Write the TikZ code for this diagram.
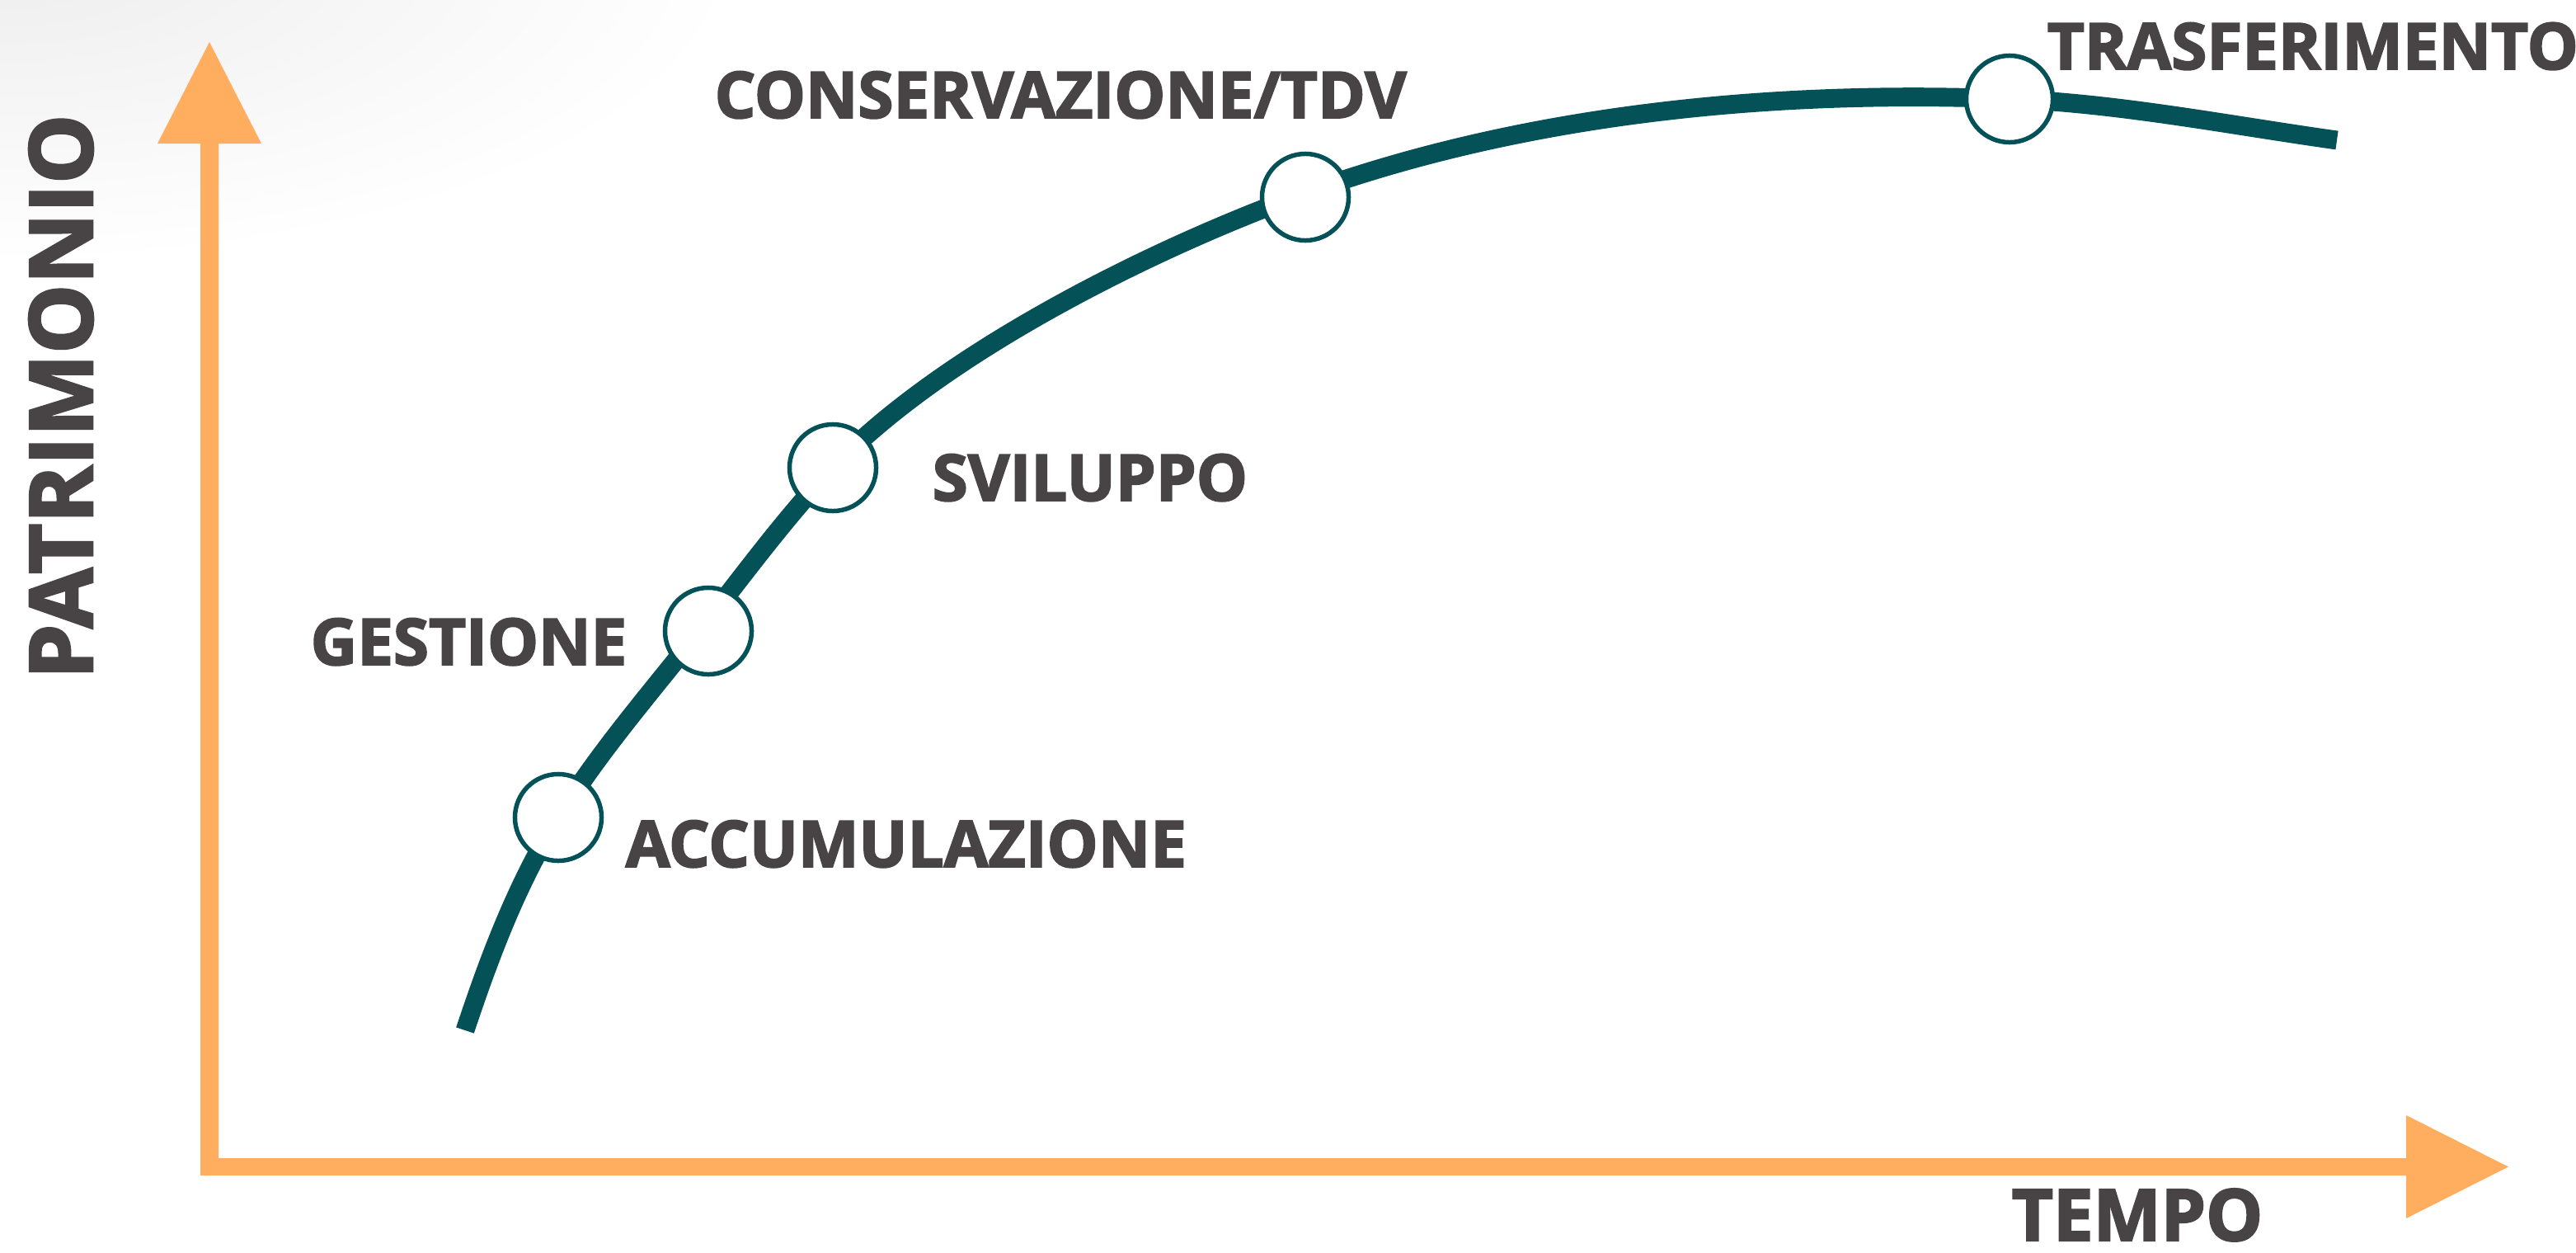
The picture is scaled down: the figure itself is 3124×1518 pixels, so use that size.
\documentclass[tikz,border=0pt]{standalone}
\usepackage{fontspec}
\setmainfont{Open Sans}[BoldFeatures={FakeBold=2.5}]
\definecolor{axisor}{RGB}{255,173,94}
\definecolor{curveteal}{RGB}{4,82,87}
\definecolor{labgray}{RGB}{72,68,69}
\tikzset{
  lab/.style={font=\fontsize{22.2}{26}\selectfont\bfseries, text=labgray, inner sep=0pt, anchor=base west},
  stage/.style={circle, draw=curveteal, line width=1.56pt, fill=white, minimum size=1.05cm, inner sep=0pt},
  growth/.style={draw=curveteal, line width=6.5pt, line cap=butt},
}
\begin{document}
\begin{tikzpicture}[x=0.01cm,y=-0.01cm]
\useasboundingbox (0,0) rectangle (3124,1518);
% faint corner shading
\begin{scope}
  \clip (0,0) rectangle (3124,1518);
  \shade[inner color=black!7, outer color=white] (0,-60) ellipse (900 and 380);
\end{scope}
% axes
\fill[axisor] (243,174) -- (243,1425) -- (2918,1425) -- (2918,1477) -- (3042,1414.5)
  -- (2918,1352) -- (2918,1404) -- (265,1404) -- (265,174) -- (317,174) -- (254,51)
  -- (191,174) -- cycle;
% curve points
\coordinate (s) at (564,1249);
\coordinate (p1) at (677,991);
\coordinate (p2) at (852,760);
\coordinate (p3) at (1010,567);
\coordinate (p4) at (1583,234);
\coordinate (p5) at (2437,120);
\coordinate (e) at (2834,170);
\draw[growth] (s) .. controls (593.7,1159.8) and (627.2,1070.7) .. (p1)
  .. controls (728.4,908.7) and (792,836.2) .. (p2)
  .. controls (903.4,694.8) and (952.7,627.1) .. (p3)
  .. controls (1141.1,429.4) and (1394.8,301.8) .. (p4)
  .. controls (1851,137.4) and (2152,108.6) .. (p5)
  .. controls (2570,125.3) and (2702.3,151.5) .. (e);
% stage circles
\node[stage] (c1) at (p1) {};
\node[stage] (c2) at (859,765) {};
\node[stage] (c3) at (p3) {};
\node[stage] (c4) at (1583,239) {};
\node[stage] (c5) at (p5) {};
% labels
\node[lab] (accu) at (758,1051) {ACCUMULAZIONE};
\node[lab] (gest) at (376,806) {GESTIONE};
\node[lab] (svil) at (1130,607) {SVILUPPO};
\node[lab] (cons) at (866,143) {CONSERVAZIONE/TDV};
\node[lab] (tras) at (2482,84) {TRASFERIMENTO};
\node[lab, font=\fontsize{24.7}{28}\selectfont\bfseries] (temp) at (2439,1504) {TEMPO};
\node[lab, font=\fontsize{30.2}{34}\selectfont\bfseries, rotate=90] (patr) at (112,824) {PATRIMONIO};
\end{tikzpicture}
\end{document}
